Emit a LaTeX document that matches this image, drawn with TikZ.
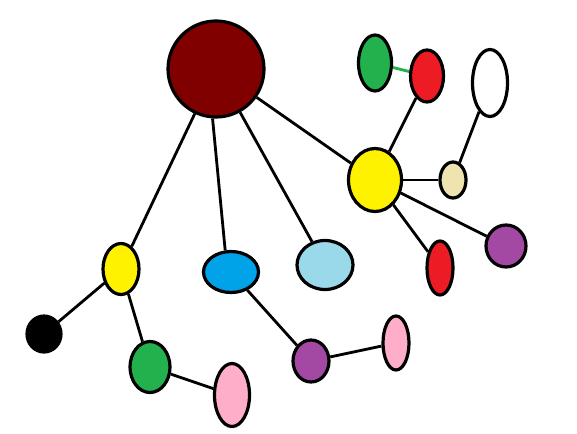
\documentclass[tikz,border=0pt]{standalone}
\usetikzlibrary{shapes.geometric}
\definecolor{maroon}{RGB}{128,0,0}
\definecolor{pgreen}{RGB}{34,177,76}
\definecolor{pred}{RGB}{237,28,36}
\definecolor{pyellow}{RGB}{255,242,0}
\definecolor{pbeige}{RGB}{239,228,176}
\definecolor{ppurple}{RGB}{163,73,164}
\definecolor{plblue}{RGB}{153,217,234}
\definecolor{pblue}{RGB}{0,162,232}
\definecolor{ppink}{RGB}{255,174,201}
\tikzset{
  blob/.style={ellipse, draw=black, line width=3.2pt, inner sep=0pt},
  link/.style={line width=2.8pt, black}
}
\begin{document}
\begin{tikzpicture}[x=1pt,y=-1pt]
      \useasboundingbox (0,0) rectangle (577,433);
      \draw
        (216,69) node[blob, fill=maroon, minimum width=96, minimum height=96] (root){}
        (375,63) node[blob, fill=pgreen, minimum width=33, minimum height=56] (gtop){}
        (427,76) node[blob, fill=pred, minimum width=33, minimum height=52] (rtop){}
        (490,83) node[blob, fill=white, minimum width=35, minimum height=67] (wtop){}
        (375,180) node[blob, fill=pyellow, minimum width=53, minimum height=63] (yright){}
        (453,180) node[blob, fill=pbeige, minimum width=26, minimum height=36] (beige){}
        (506,246) node[blob, fill=ppurple, minimum width=40, minimum height=42] (pright){}
        (440,268) node[blob, fill=pred, minimum width=26, minimum height=54] (rbot){}
        (325,265) node[blob, fill=plblue, minimum width=56, minimum height=49] (lblue){}
        (231,272) node[blob, fill=pblue, minimum width=55, minimum height=41] (blue){}
        (121,269) node[blob, fill=pyellow, minimum width=36, minimum height=51] (yleft){}
        (44,334) node[blob, fill=black, minimum width=34, minimum height=36] (black){}
        (150,367) node[blob, fill=pgreen, minimum width=40, minimum height=51] (gbot){}
        (232,395) node[blob, fill=ppink, minimum width=35, minimum height=63] (pkbot){}
        (311,361) node[blob, fill=ppurple, minimum width=36, minimum height=42] (pbot){}
        (396,343) node[blob, fill=ppink, minimum width=26, minimum height=54] (pkright){};
      \begin{scope}[link]
        \draw (root.-94) to (blue.105);
        \draw (root) to (yleft);
        \draw (root) to (lblue);
        \draw (root) to (yright);
        \draw (yright) to (rtop);
        \draw (yright) to (beige);
        \draw (yright) to (pright);
        \draw (yright) to (rbot);
        \draw (beige) to (wtop);
        \draw[pgreen] (gtop) to (rtop);
        \draw (yleft) to (black);
        \draw (yleft) to (gbot);
        \draw (gbot) to (pkbot);
        \draw (blue) to (pbot);
        \draw (pbot) to (pkright);
      \end{scope}
    \end{tikzpicture}
\end{document}
